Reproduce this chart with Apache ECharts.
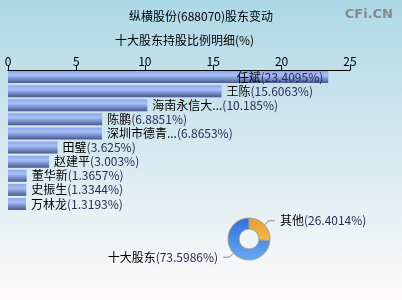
<!DOCTYPE html>
<html><head><meta charset="utf-8">
<script src="https://cdn.jsdelivr.net/npm/echarts@6/dist/echarts.min.js"></script>
<style>html,body{margin:0;padding:0;}#c{width:402px;height:300px;}</style>
</head><body><div id="c"></div>
<script>
const names = ['任斌','王陈','海南永信大...','陈鹏','深圳市德青...','田璧','赵建平','董华新','史振生','万林龙'];
const values = [23.4095,15.6063,10.185,6.8851,6.8653,3.625,3.003,1.3657,1.3344,1.3193];
const pieNames = ['其他','十大股东'];
const pieValues = [26.4014,73.5986];
const xTicks = [0,5,10,15,20,25];

const font = '"Noto Sans CJK SC", "Noto Sans", sans-serif';
const chart = echarts.init(document.getElementById('c'));
const barGrad = new echarts.graphic.LinearGradient(0,0,0,1,[
  {offset:0,color:'#8aa6ee'},{offset:0.35,color:'#a9c0f6'},{offset:0.7,color:'#7088c8'},{offset:1,color:'#4a5884'}]);
chart.setOption({
  backgroundColor: new echarts.graphic.LinearGradient(0,0,0,1,[{offset:0,color:'#add8e6'},{offset:1,color:'#fffafa'}]),
  animation:false,
  title:[
    {text:'纵横股份(688070)股东变动',left:'center',top:5,textStyle:{fontSize:12,fontWeight:'normal',color:'#000',fontFamily:font}},
    {text:'十大股东持股比例明细(%)',left:110,top:29,textStyle:{fontSize:12,fontWeight:'normal',color:'#000',fontFamily:font}},
    {text:'CFi.CN',right:4,top:3,textStyle:{fontSize:13,fontWeight:'bold',color:'#888',fontFamily:'"DejaVu Sans", sans-serif'}}
  ],
  grid:{left:8,top:70,width:342,height:141},
  xAxis:{type:'value',position:'top',min:0,max:25,interval:5,
    axisLine:{show:true,lineStyle:{color:'#000'}},
    axisTick:{show:true,length:5,lineStyle:{color:'#000'}},
    axisLabel:{color:'#000',fontSize:12,margin:3,fontFamily:font,formatter:v=>xTicks.includes(v)?String(v):''},
    splitLine:{show:false}},
  yAxis:{type:'category',data:names,inverse:true,show:false},
  series:[{type:'bar',data:values.map((v,i)=>({value:v,label:i===0?{position:'insideRight',distance:5}:{}})),
    barWidth:12,itemStyle:{color:barGrad},
    label:{show:true,position:'right',distance:5,fontFamily:font,
      formatter:p=>'{n|'+p.name+'}{v|('+p.value+'%)}',
      rich:{n:{color:'#000',fontSize:12,fontFamily:font},v:{color:'#2a2a55',fontSize:12,fontFamily:font}}}},
   {type:'pie',center:[249,239],radius:[10,21],startAngle:90,clockwise:true,
    data:pieNames.map((n,i)=>({name:n,value:pieValues[i]})),
    itemStyle:{borderColor:'#a0a0a0',borderWidth:1},
    color:[new echarts.graphic.LinearGradient(0,0,0,1,[{offset:0,color:'#e8a030'},{offset:1,color:'#f4b848'}]),
           new echarts.graphic.LinearGradient(0,0,0,1,[{offset:0,color:'#2f70d8'},{offset:1,color:'#6aa8f4'}])],
    label:{show:true,fontFamily:font,fontSize:12,formatter:p=>'{n|'+p.name+'}{v|('+p.value+'%)}',
      rich:{n:{color:'#000',fontSize:12,fontFamily:font},v:{color:'#2a2a55',fontSize:12,fontFamily:font}}},
    labelLine:{length:6,length2:6,lineStyle:{color:'#888'}}}
  ]
});
</script></body></html>
